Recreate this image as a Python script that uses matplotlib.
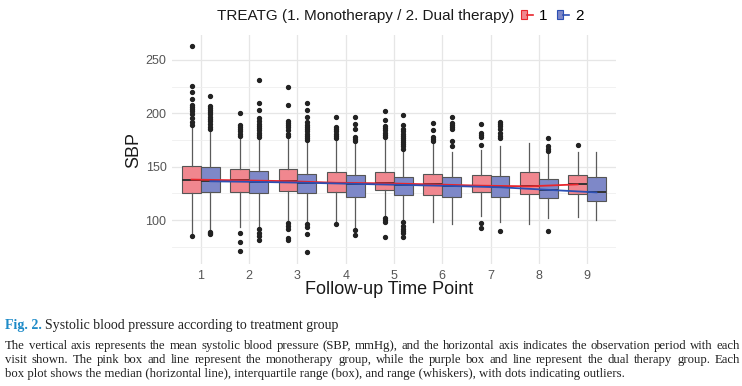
import matplotlib
matplotlib.use("Agg")
import matplotlib.pyplot as plt
from matplotlib.patches import Patch
from matplotlib.lines import Line2D
from matplotlib.legend_handler import HandlerTuple

# 随访时间点
time_points = [1, 2, 3, 4, 5, 6, 7, 8, 9]

# 单药组 (1) 箱线图统计量
mono_q1 = [125.5, 126, 127.7, 126, 128, 123.3, 126, 124.3, 124.6]
mono_med = [138, 137.3, 136.5, 135, 134.5, 133.5, 132.3, 131.7, 133.5]
mono_q3 = [151, 148, 148, 145, 144.8, 143.3, 142, 145, 142]
mono_lo = [88, 94, 98, 98, 104, 98, 104, 96, 103]
mono_hi = [188, 177, 177, 174, 176, 172, 166, 172, 163.5]
mono_out = [
    [263, 226, 220, 213, 208, 206, 204, 202, 199, 196, 192, 189, 85],
    [200, 189, 187, 185, 183, 181, 179, 88, 80, 71],
    [225, 208, 193, 191, 189, 187, 184, 181, 179, 97, 95, 92, 83, 81],
    [197, 187, 185, 183, 181, 179, 177, 96],
    [202, 194, 188, 186, 184, 182, 180, 178, 102, 100, 98, 84],
    [191, 184, 178, 176, 174],
    [190, 182, 180, 178, 170, 97, 93],
    [],
    [170.6],
]

# 双药组 (2) 箱线图统计量
dual_q1 = [126, 125, 125, 122, 124, 122, 121.8, 120.9, 117.7]
dual_med = [136.4, 135.8, 135, 134, 133, 132, 130.8, 128.4, 126]
dual_q3 = [149.5, 146, 143.6, 142, 140.5, 140, 141, 138.6, 140]
dual_lo = [91, 94, 98, 94, 100, 96, 98, 102, 100]
dual_hi = [184, 176, 172, 172, 164, 164, 169, 162, 163.5]
dual_out = [
    [216, 207, 205, 203, 201, 199, 197, 195, 193, 190, 187, 185, 89, 88, 87],
    [231, 210, 203, 196, 193, 190, 188, 186, 184, 182, 180, 178, 92, 88, 85, 81],
    [210, 203, 197, 192, 189, 187, 185, 183, 181, 179, 177, 175, 96, 94, 87, 70],
    [197, 190, 185, 178, 176, 174, 91, 86],
    [198, 189, 185, 183, 181, 179, 177, 175, 173, 171, 169, 167, 98, 95, 92, 90, 88, 84],
    [197, 191, 189, 187, 185, 174, 169],
    [192, 190, 188, 185, 182, 179, 177, 90],
    [177, 169, 167, 165, 90],
    [],
]

y_ticks = [100, 150, 200, 250]
y_minor = [75, 125, 175, 225]

caption_title = "Systolic blood pressure according to treatment group"
caption_lines = [
    "The vertical axis represents the mean systolic blood pressure (SBP, mmHg), and the horizontal axis indicates the observation period with each",
    "visit shown. The pink box and line represent the monotherapy group, while the purple box and line represent the dual therapy group. Each",
    "box plot shows the median (horizontal line), interquartile range (box), and range (whiskers), with dots indicating outliers.",
]

pink = "#F0878F"
purple = "#7E88C8"
red_line = "#E8262D"
blue_line = "#2C4FB3"
sans = ["Liberation Sans", "DejaVu Sans"]
serif = ["Liberation Serif", "DejaVu Serif"]


def make_stats(q1, med, q3, lo, hi, out):
    stats = []
    for i in range(len(q1)):
        stats.append({"q1": q1[i], "med": med[i], "q3": q3[i],
                      "whislo": lo[i], "whishi": hi[i], "fliers": out[i]})
    return stats


fig = plt.figure(figsize=(7.42, 3.86), dpi=100)
ax = fig.add_axes([172 / 742, 1 - 264 / 386, 444 / 742, 229 / 386])

off = 0.195
w = 0.39
common = dict(widths=w, patch_artist=True, showcaps=False,
              whiskerprops=dict(color="#5a5a5a", lw=0.9),
              medianprops=dict(color="#333333", lw=1.4),
              flierprops=dict(marker="o", markersize=2.8, markerfacecolor="#222222",
                              markeredgecolor="#222222"))
ax.bxp(make_stats(mono_q1, mono_med, mono_q3, mono_lo, mono_hi, mono_out),
       positions=[t - off for t in time_points],
       boxprops=dict(facecolor=pink, edgecolor="#555555", lw=0.8), **common)
ax.bxp(make_stats(dual_q1, dual_med, dual_q3, dual_lo, dual_hi, dual_out),
       positions=[t + off for t in time_points],
       boxprops=dict(facecolor=purple, edgecolor="#555555", lw=0.8), **common)

# 中位数连线
ax.plot([t - off for t in time_points], mono_med, color=red_line, lw=1.3, zorder=5)
ax.plot([t + off for t in time_points], dual_med, color=blue_line, lw=1.3, zorder=5)

ax.set_xlim(0.4, 9.6)
ax.set_ylim(59, 273.3)
ax.set_xticks(time_points)
ax.set_xticklabels([str(t) for t in time_points])
ax.set_yticks(y_ticks)
ax.set_yticks(y_minor, minor=True)
ax.grid(True, which="major", color="#E6E6E6", lw=0.9)
ax.grid(True, which="minor", axis="y", color="#EFEFEF", lw=0.6)
ax.set_axisbelow(True)
for s in ax.spines.values():
    s.set_visible(False)
ax.tick_params(which="both", length=0, labelsize=9, labelcolor="#555555", pad=4)
for lab in ax.get_xticklabels() + ax.get_yticklabels():
    lab.set_family(sans)

ax.set_xlabel("Follow-up Time Point", fontsize=13, family=sans, color="#1a1a1a")
ax.set_ylabel("SBP", fontsize=13, family=sans, color="#1a1a1a")
ax.xaxis.set_label_coords(0.49, -0.075)
ax.yaxis.set_label_coords(-0.068, 0.5)

# 图例（与标题同一行）
fig.text(217 / 742, 1 - 16 / 386, "TREATG (1. Monotherapy / 2. Dual therapy)",
         fontsize=11, family=sans, color="#1a1a1a", va="center")
h1 = (Patch(facecolor=pink, edgecolor=red_line, lw=0.8), Line2D([], [], color=red_line, lw=1.2))
h2 = (Patch(facecolor=purple, edgecolor=blue_line, lw=0.8), Line2D([], [], color=blue_line, lw=1.2))
fig.legend([h1, h2], ["1", "2"], handler_map={tuple: HandlerTuple(ndivide=None)},
           loc="center left", bbox_to_anchor=(513 / 742, 1 - 16 / 386), ncol=2,
           frameon=False, handlelength=0.8, handleheight=0.6, handletextpad=0.4,
           columnspacing=0.6, borderpad=0, prop={"family": sans, "size": 11})

# 图注
fig.text(5 / 742, 1 - 325 / 386, "Fig. 2.", fontsize=10, family=serif,
         fontweight="bold", color="#1E8BC8", va="center")
fig.text(45 / 742, 1 - 325 / 386, caption_title, fontsize=10, family=serif,
         color="#222222", va="center")

# 两端对齐正文（最后一行左对齐）
renderer = fig.canvas.get_renderer()
x0, x1 = 5.0, 740.0
fs = 9.2
for i, line in enumerate(caption_lines):
    y = 1 - (346 + 14 * i) / 386
    words = line.split(" ")
    if i == len(caption_lines) - 1:
        fig.text(x0 / 742, y, line, fontsize=fs, family=serif, color="#222222", va="center")
        continue
    texts = [fig.text(0, y, wd, fontsize=fs, family=serif, color="#222222", va="center")
             for wd in words]
    widths = [t.get_window_extent(renderer).width for t in texts]
    gap = (x1 - x0 - sum(widths)) / (len(words) - 1)
    x = x0
    for t, wd in zip(texts, widths):
        t.set_x(x / 742)
        x += wd + gap

fig.savefig("out.png", dpi=100)
